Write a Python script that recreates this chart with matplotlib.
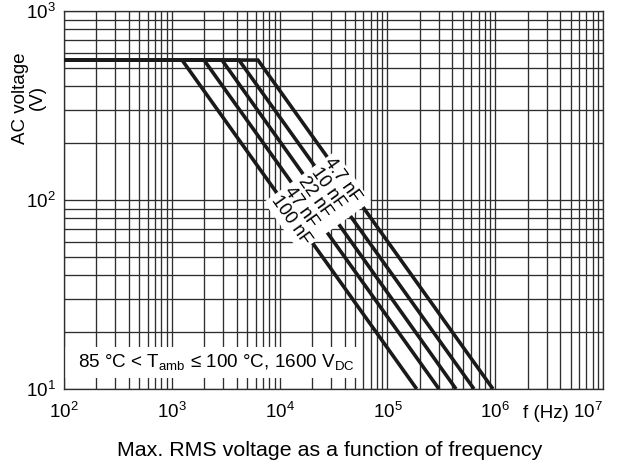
import matplotlib
matplotlib.use('Agg')
import matplotlib.pyplot as plt
from matplotlib.ticker import LogLocator, NullFormatter
from matplotlib.patches import Rectangle

plt.rcParams['font.family'] = ['Liberation Sans', 'DejaVu Sans']
plt.rcParams['mathtext.fontset'] = 'custom'
plt.rcParams['mathtext.rm'] = 'Liberation Sans'
plt.rcParams['mathtext.it'] = 'Liberation Sans:italic'
plt.rcParams['mathtext.bf'] = 'Liberation Sans:bold'

# ---- data ----
capacitances = ['4.7 nF', '10 nF', '22 nF', '47 nF', '100 nF']
f_start = 1e2
v_plateau = 550
f_break = [6300, 4200, 2920, 1990, 1245]
f_end = [9.54e5, 6.36e5, 4.33e5, 3.01e5, 1.87e5]
v_end = 10
xticks = [1e2, 1e3, 1e4, 1e5, 1e6, 1e7]
xtick_labels = [r'$\mathregular{10^2}$', r'$\mathregular{10^3}$', r'$\mathregular{10^4}$',
                r'$\mathregular{10^5}$', r'$\mathregular{10^6}$', r'$\mathregular{10^7}$']
yticks = [1e1, 1e2, 1e3]
ytick_labels = [r'$\mathregular{10^1}$', r'$\mathregular{10^2}$', r'$\mathregular{10^3}$']
condition_text = r'85 °C < T$_{\mathregular{amb}}$ ≤ 100 °C, 1600 V$_{\mathregular{DC}}$'
title_text = 'Max. RMS voltage as a function of frequency'

W, H = 618, 466
fig = plt.figure(figsize=(W / 100, H / 100), dpi=100)
ax = fig.add_axes([64 / W, 1 - 389 / H, 539 / W, 378 / H])
ax.set_xscale('log')
ax.set_yscale('log')
ax.set_xlim(1e2, 1e7)
ax.set_ylim(10, 1000)

for fb, fe in zip(f_break, f_end):
    ax.plot([f_start, fb, fe], [v_plateau, v_plateau, v_end], color='#1a1a1a',
            lw=2.6, solid_joinstyle='miter', solid_capstyle='butt', zorder=3)

ax.set_axisbelow(True)
for axis in (ax.xaxis, ax.yaxis):
    axis.set_minor_locator(LogLocator(base=10, subs=range(2, 10)))
    axis.set_minor_formatter(NullFormatter())
ax.grid(which='both', color='#2e2e2e', lw=0.95)
ax.tick_params(which='both', length=0)
ax.tick_params(axis='x', pad=9, labelsize=13.5)
ax.tick_params(axis='y', pad=6, labelsize=13.5)
ax.set_xticks(xticks, xtick_labels)
ax.set_yticks(yticks, ytick_labels)
ax.get_xticklabels()[-1].set_ha('right')
for sp in ax.spines.values():
    sp.set_color('#2e2e2e')
    sp.set_linewidth(0.95)

# white box behind condition text
ax.add_patch(Rectangle((0, 0.029), 0.549, 0.082, transform=ax.transAxes,
                       facecolor='white', edgecolor='none', zorder=1))
ax.text(135, 13.9, condition_text, ha='left', va='center', fontsize=13.6, zorder=4)

# capacitance labels
ax.text(2.25e4, 98, '\n'.join(capacitances), rotation=-54.5, rotation_mode='anchor',
        ha='center', va='center', multialignment='left', linespacing=0.95,
        fontsize=13, zorder=4,
        bbox=dict(facecolor='white', edgecolor='none', pad=2))

fig.text(29 / W, 1 - 98 / H, 'AC voltage\n(V)', rotation=90, ha='center', va='center',
         multialignment='center', linespacing=0.95, fontsize=13.5)
fig.text(546 / W, 1 - 414 / H, 'f (Hz)', ha='center', va='center', fontsize=13.5)
fig.text(329.5 / W, 1 - 456 / H, title_text, ha='center', va='baseline', fontsize=15.4)

fig.savefig('out.png', dpi=100)
